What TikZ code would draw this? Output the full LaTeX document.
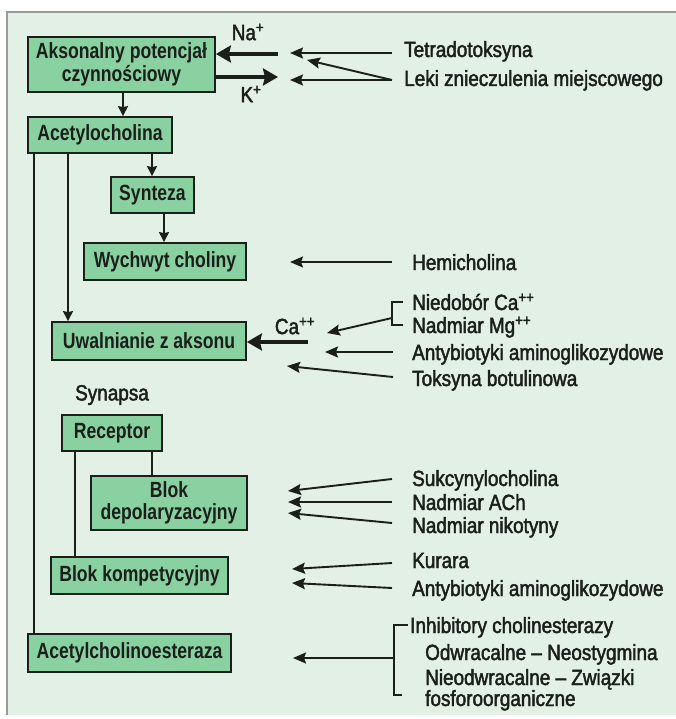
\documentclass[tikz,border=0pt]{standalone}
\usepackage{fontspec}
\setmainfont{Liberation Sans}
\newfontfamily\boxfont[FakeStretch=0.8]{Liberation Sans}
\newfontfamily\lblfont[FakeStretch=0.86,FakeBold=2]{Liberation Sans}
\usetikzlibrary{arrows.meta}
\definecolor{bg}{HTML}{E3F0E6}
\definecolor{boxfill}{HTML}{8AD1A2}
\definecolor{ink}{HTML}{1A1F1A}
\definecolor{framecol}{HTML}{9A9A9A}
\begin{document}
\begin{tikzpicture}[x=1pt,y=-1pt,
  box/.style={draw=ink, line width=1.8pt, fill=boxfill, inner sep=0pt, align=center, text=ink,
    font=\boxfont\bfseries\fontsize{22}{22.5}\selectfont},
  lbl/.style={anchor=base west, inner sep=0pt, text=ink, font=\lblfont\fontsize{22}{22}\selectfont},
  plain/.style={inner sep=0pt, text=ink, font=\lblfont\fontsize{22}{22}\selectfont},
  conn/.style={draw=ink, line width=1.9pt},
  down/.style={conn, -{Stealth[length=10pt,width=10pt,inset=1pt]}},
  thin/.style={conn, -{Stealth[length=13pt,width=11pt,inset=2pt]}},
  thick/.style={draw=ink, line width=3.8pt, -{Stealth[length=15pt,width=17pt,inset=2pt]}},
  brack/.style={draw=ink, line width=1.9pt}
]
\useasboundingbox (0,0) rectangle (676,719);
\fill[white] (0,0) rectangle (676,719);
\fill[bg] (7,12) rectangle (676,715);
\draw[framecol, line width=1.5pt] (7,715) -- (7,12) -- (676,12);

% boxes
\node[box, minimum width=187pt, minimum height=55pt] (aks) at (121.5,64.5) {Aksonalny potencjał\\czynnościowy};
\node[box, minimum width=144pt, minimum height=36pt] (ach) at (100,135) {Acetylocholina};
\node[box, minimum width=83pt, minimum height=36pt] (syn) at (152.5,195) {Synteza};
\node[box, minimum width=162pt, minimum height=37pt] (wyc) at (165,261.5) {Wychwyt choliny};
\node[box, minimum width=194pt, minimum height=38pt] (uwa) at (149,341) {Uwalnianie z aksonu};
\node[plain] (synapsa) at (112,395) {Synapsa};
\node[box, minimum width=100pt, minimum height=36pt] (rec) at (112,433) {Receptor};
\node[box, minimum width=156pt, minimum height=54pt] (dep) at (169,503) {Blok\\depolaryzacyjny};
\node[box, minimum width=177pt, minimum height=37pt] (kom) at (139.5,575.5) {Blok kompetycyjny};
\node[box, minimum width=203pt, minimum height=38pt] (est) at (129.5,653) {Acetylcholinoesteraza};

% x positions of vertical connectors
\coordinate (xa) at (123,0);
\coordinate (xb) at (152,0);
\coordinate (xc) at (164,0);
\coordinate (xd) at (68,0);
\coordinate (xe) at (34,0);
\coordinate (xf) at (75,0);

\draw[down] (aks.south -| xa) -- (ach.north -| xa);
\draw[down] (ach.south -| xb) -- (syn.north -| xb);
\draw[down] (syn.south -| xc) -- (wyc.north -| xc);
\draw[down] (ach.south -| xd) -- (uwa.north -| xd);
\draw[conn] (ach.south -| xe) -- (est.north -| xe);
\draw[conn] (rec.south -| xf) -- (kom.north -| xf);
\draw[conn] (rec.south -| xb) -- (dep.north -| xb);

% ion arrows
\coordinate (naS) at (278,54);
\coordinate (kE) at (278,77);
\coordinate (caS) at (308,342);
\draw[thick] (naS) -- (naS -| aks.east);
\draw[thick] (kE -| aks.east) -- (kE);
\draw[thick] (caS) -- (caS -| uwa.east);
\node[plain] (na) at (248,32) {Na\textsuperscript{+}};
\node[plain] (k) at (251,94) {K\textsuperscript{+}};
\node[plain] (ca) at (295,326) {Ca\textsuperscript{++}};

% labels
\node[lbl] (tet) at (404,57) {Tetradotoksyna};
\node[lbl] (lek) at (404,86) {Leki znieczulenia miejscowego};
\node[lbl] (hem) at (412,270) {Hemicholina};
\node[lbl] (nca) at (412,310) {Niedobór Ca\textsuperscript{++}};
\node[lbl] (nmg) at (412,333) {Nadmiar Mg\textsuperscript{++}};
\node[lbl] (ant1) at (412,360) {Antybiotyki aminoglikozydowe};
\node[lbl] (tok) at (412,386) {Toksyna botulinowa};
\node[lbl] (suk) at (412,486) {Sukcynylocholina};
\node[lbl] (nach) at (412,510) {Nadmiar ACh};
\node[lbl] (nnik) at (412,533) {Nadmiar nikotyny};
\node[lbl] (kur) at (412,568) {Kurara};
\node[lbl] (ant2) at (412,596) {Antybiotyki aminoglikozydowe};
\node[lbl] (inh) at (410,633) {Inhibitory cholinesterazy};
\node[lbl] (odw) at (425,660) {Odwracalne – Neostygmina};
\node[lbl] (nieo) at (425,685) {Nieodwracalne – Związki};
\node[lbl] (fos) at (425,706) {fosforoorganiczne};

% thin arrow endpoints
\coordinate (t1s) at (392,53);  \coordinate (t1e) at (290,53);
\coordinate (t2s) at (392,80);  \coordinate (t2e) at (290,80);
\coordinate (t3e) at (307,60);
\coordinate (hs) at (392,262);  \coordinate (he) at (290,262);
\coordinate (cbt) at (403,302); \coordinate (cbb) at (403,325);
\coordinate (cbm) at (392,318); \coordinate (cbe) at (327,333);
\coordinate (a1s) at (393,352); \coordinate (a1e) at (325,352);
\coordinate (tbs) at (393,377); \coordinate (tbe) at (287,366);
\coordinate (ss) at (392,479);  \coordinate (se) at (288,491);
\coordinate (ns) at (392,502);  \coordinate (ne) at (288,502);
\coordinate (nns) at (392,523); \coordinate (nne) at (288,513);
\coordinate (ks) at (392,563);  \coordinate (ke) at (292,569);
\coordinate (a2s) at (392,588); \coordinate (a2e) at (292,583);
\coordinate (ibt) at (408,625); \coordinate (ibb) at (402,695);
\coordinate (ibm) at (394,658); \coordinate (ibe) at (293,658);

\draw[thin] (t1s) -- (t1e);
\draw[thin] (t2s) -- (t2e);
\draw[thin] (t2s) -- (t3e);
\draw[thin] (hs) -- (he);
\draw[brack] (cbt) -- (cbt -| cbm) -- (cbb -| cbm) -- (cbb);
\draw[thin] (cbm) -- (cbe);
\draw[thin] (a1s) -- (a1e);
\draw[thin] (tbs) -- (tbe);
\draw[thin] (ss) -- (se);
\draw[thin] (ns) -- (ne);
\draw[thin] (nns) -- (nne);
\draw[thin] (ks) -- (ke);
\draw[thin] (a2s) -- (a2e);
\draw[brack] (ibt) -- (ibt -| ibm) -- (ibb -| ibm) -- (ibb);
\draw[thin] (ibm) -- (ibe);
\end{tikzpicture}
\end{document}
